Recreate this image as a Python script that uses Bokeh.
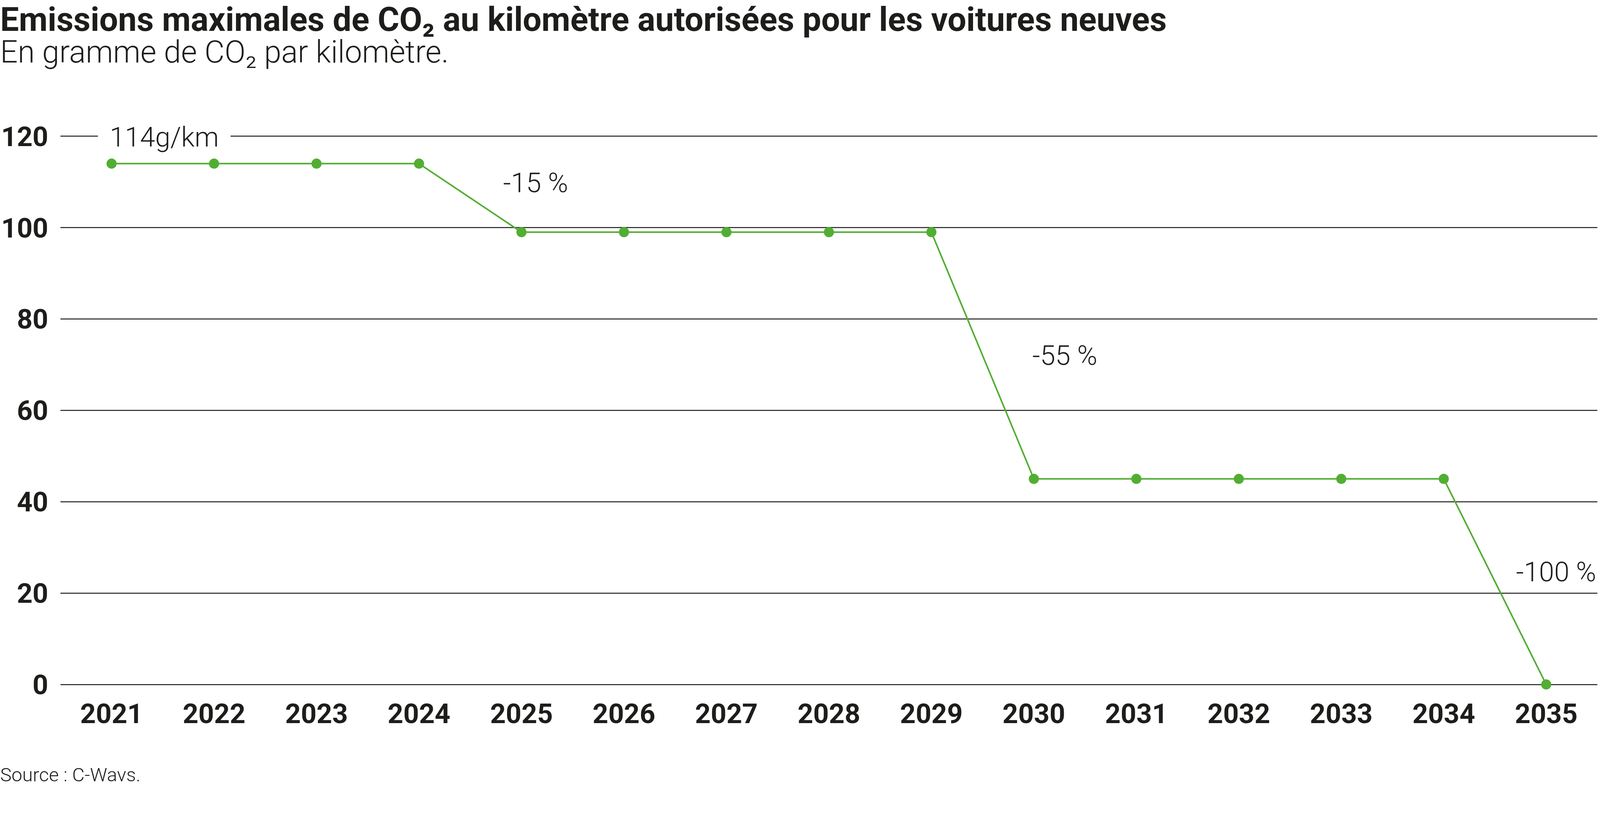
from bokeh.plotting import figure
from bokeh.models import Label, FixedTicker, Range1d, ColumnDataSource
from bokeh.layouts import column
from bokeh.embed import file_html
from bokeh.resources import INLINE

# ---------------- data ----------------
years = [2021, 2022, 2023, 2024, 2025, 2026, 2027, 2028, 2029, 2030, 2031, 2032, 2033, 2034, 2035]
co2 = [114, 114, 114, 114, 99, 99, 99, 99, 99, 45, 45, 45, 45, 45, 0]
x_tick_labels = ["2021", "2022", "2023", "2024", "2025", "2026", "2027", "2028",
                 "2029", "2030", "2031", "2032", "2033", "2034", "2035"]
y_ticks = [0, 20, 40, 60, 80, 100, 120]
y_tick_labels = ["0", "20", "40", "60", "80", "100", "120"]

ann_text = ["114g/km", "-15\u202f%", "-55\u202f%", "-100\u202f%"]
ann_year = [2021, 2025, 2030, 2035]
ann_value = [120, 99, 45, 0]

title_text = "Emissions maximales de CO\u2082 au kilomètre autorisées pour les voitures neuves"
subtitle_text = "En gramme de CO\u2082 par kilomètre."
source_text = "Source : C-Wavs."

# ---------------- layout / style ----------------
W, H = 4090, 2024
TOP_H = 230
MAIN_BOTTOM = 1935
BOT_H = H - MAIN_BOTTOM
FRAME_L, FRAME_R = 149, 1
FRAME_T, FRAME_B = 278, 1775          # frame edges in page coordinates
GREEN = "#52ae32"
INK = "#1d1d1b"
LIGHT = "Roboto Light, Roboto"
BOLD = "Roboto"
BASE_FIX = 0.4                        # baseline correction in em


def text_fig(height):
    f = figure(width=W, height=height, output_backend="svg", toolbar_location=None,
               x_range=Range1d(0, W), y_range=Range1d(0, height),
               x_axis_type=None, y_axis_type=None, frame_align=False,
               min_border_left=0, min_border_right=0, min_border_top=0, min_border_bottom=0)
    f.outline_line_color = None
    f.xgrid.visible = False
    f.ygrid.visible = False
    f.background_fill_color = "white"
    f.border_fill_color = "white"
    return f


# ---- header ----
TITLE_SIZE, SUB_SIZE, SRC_SIZE = 85, 79, 49
top = text_fig(TOP_H)
top.add_layout(Label(x=0, y=TOP_H - 83 + BASE_FIX * TITLE_SIZE, text=title_text,
                     text_font=BOLD, text_font_style="bold", text_font_size=f"{TITLE_SIZE}px",
                     text_color=INK, text_baseline="alphabetic"))
top.add_layout(Label(x=0, y=TOP_H - 164 + BASE_FIX * SUB_SIZE, text=subtitle_text,
                     text_font=LIGHT, text_font_size=f"{SUB_SIZE}px",
                     text_color=INK, text_baseline="alphabetic"))

# ---- main chart ----
p = figure(width=W, height=MAIN_BOTTOM - TOP_H, output_backend="svg", toolbar_location=None,
           x_range=Range1d(2020.5, 2035.5), y_range=Range1d(-2, 126), frame_align=False,
           min_border_left=FRAME_L, min_border_right=FRAME_R,
           min_border_top=FRAME_T - TOP_H, min_border_bottom=MAIN_BOTTOM - FRAME_B)
p.outline_line_color = None
p.background_fill_color = "white"
p.border_fill_color = "white"

p.xgrid.visible = False
p.ygrid.grid_line_color = INK
p.ygrid.grid_line_width = 2.4

for ax in (p.xaxis, p.yaxis):
    ax.axis_line_color = None
    ax.major_tick_line_color = None
    ax.minor_tick_line_color = None
    ax.major_tick_out = 0
    ax.major_tick_in = 0
    ax.major_label_text_font = BOLD
    ax.major_label_text_font_style = "bold"
    ax.major_label_text_font_size = "70px"
    ax.major_label_text_color = INK

p.xaxis.ticker = FixedTicker(ticks=years)
p.xaxis.major_label_overrides = {y: s for y, s in zip(years, x_tick_labels)}
p.xaxis.major_label_standoff = 25
p.yaxis.ticker = FixedTicker(ticks=y_ticks)
p.yaxis.major_label_overrides = {t: s for t, s in zip(y_ticks, y_tick_labels)}
p.yaxis.major_label_standoff = 31

src = ColumnDataSource(dict(year=years, co2=co2))
p.line("year", "co2", source=src, line_color=GREEN, line_width=4)
p.scatter("year", "co2", source=src, size=26, fill_color=GREEN, line_color=None)

# annotations (offsets in screen pixels)
ANN_SIZE = 70
ann_dx = [-35, -47, -4, 128]
ann_dy = [-30, 98, 288, 260]
ann_align = ["left", "left", "left", "right"]
for i, (t, xv, yv) in enumerate(zip(ann_text, ann_year, ann_value)):
    kw = {}
    if i == 0:
        kw = dict(background_fill_color="white", padding=(30, 4))
    p.add_layout(Label(x=xv, y=yv, x_offset=ann_dx[i], y_offset=ann_dy[i] + BASE_FIX * ANN_SIZE,
                       text=t, text_font=LIGHT, text_font_size=f"{ANN_SIZE}px", text_color=INK,
                       text_align=ann_align[i], text_baseline="alphabetic", **kw))

# ---- footer ----
bottom = text_fig(BOT_H)
bottom.add_layout(Label(x=0, y=BOT_H - (2003 - MAIN_BOTTOM) + BASE_FIX * SRC_SIZE, text=source_text,
                        text_font=LIGHT, text_font_size=f"{SRC_SIZE}px",
                        text_color=INK, text_baseline="alphabetic"))

layout = column(top, p, bottom, spacing=0)
open("out.html", "w").write(file_html(layout, INLINE))
